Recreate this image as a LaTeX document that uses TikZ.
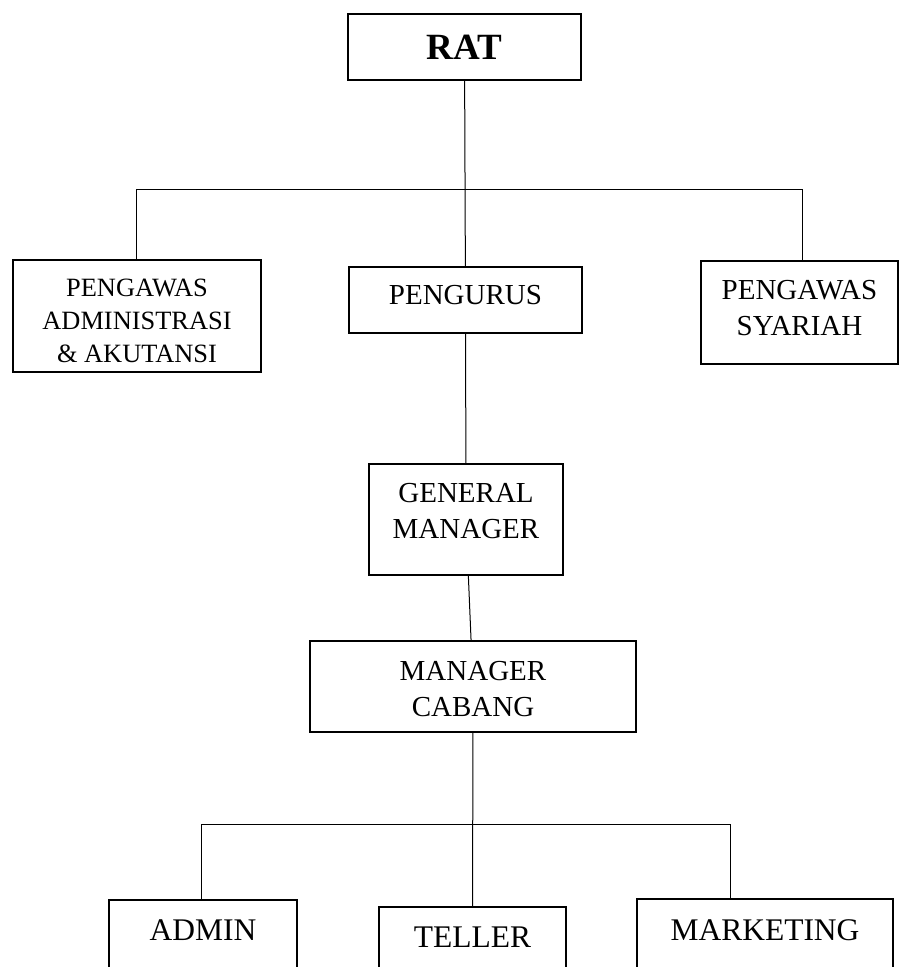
\documentclass[tikz,border=0pt]{standalone}
\usepackage{fontspec}
\setmainfont{Liberation Serif}
\usepackage{tikz}

\tikzset{
    box/.style={draw, line width=2.2pt, inner sep=0pt, align=center},
    link/.style={line width=1pt},
}

\begin{document}
\begin{tikzpicture}[x=1pt, y=-1pt]
    \clip (0, 0) rectangle (900, 967);

    \node[box, minimum width=233pt, minimum height=66pt, font=\bfseries\fontsize{37}{44}\selectfont] (rat) at (464.5, 47) {RAT};

    \node[box, minimum width=248pt, minimum height=112pt, text height=92pt, text depth=0pt, font=\fontsize{26.4}{33}\selectfont] (adm) at (137, 316) {PENGAWAS\\ADMINISTRASI\\\& AKUTANSI};
    \node[box, minimum width=233pt, minimum height=66pt, text depth=10pt, font=\fontsize{29}{36}\selectfont] (pengurus) at (465.5, 300) {PENGURUS};
    \node[box, minimum width=197pt, minimum height=103pt, text depth=10pt, font=\fontsize{29}{36}\selectfont] (syariah) at (799.5, 312.5) {PENGAWAS\\SYARIAH};

    \node[box, minimum width=194pt, minimum height=111pt, text depth=18pt, font=\fontsize{29}{36}\selectfont] (gm) at (466, 519.5) {GENERAL\\MANAGER};
    \node[box, minimum width=326pt, minimum height=91pt, text height=59pt, text depth=0pt, font=\fontsize{29}{36}\selectfont] (mc) at (473, 686.5) {MANAGER\\CABANG};

    \node[box, minimum width=188pt, minimum height=90pt, text height=21pt, text depth=31pt, font=\fontsize{31.5}{38}\selectfont] (admin) at (203, 945) {ADMIN};
    \node[box, minimum width=187pt, minimum height=84pt, text height=21pt, text depth=25pt, font=\fontsize{31.5}{38}\selectfont] (teller) at (472.5, 949) {TELLER};
    \node[box, minimum width=256pt, minimum height=92pt, text height=21pt, text depth=31pt, font=\fontsize{31.5}{38}\selectfont] (marketing) at (765, 945) {MARKETING};

    \coordinate (topL) at (136, 189);
    \coordinate (topR) at (802, 189);
    \coordinate (botL) at (201, 824);
    \coordinate (botR) at (730, 824);

    \draw[link] (rat) -- (pengurus);
    \draw[link] (topL) -- (topR);
    \draw[link] (topL) -- (topL |- adm.north);
    \draw[link] (topR) -- (topR |- syariah.north);
    \draw[link] (pengurus) -- (gm);
    \draw[link] (gm) -- (mc);
    \draw[link] (mc) -- (teller);
    \draw[link] (botL) -- (botR);
    \draw[link] (botL) -- (botL |- admin.north);
    \draw[link] (botR) -- (botR |- marketing.north);
\end{tikzpicture}
\end{document}
